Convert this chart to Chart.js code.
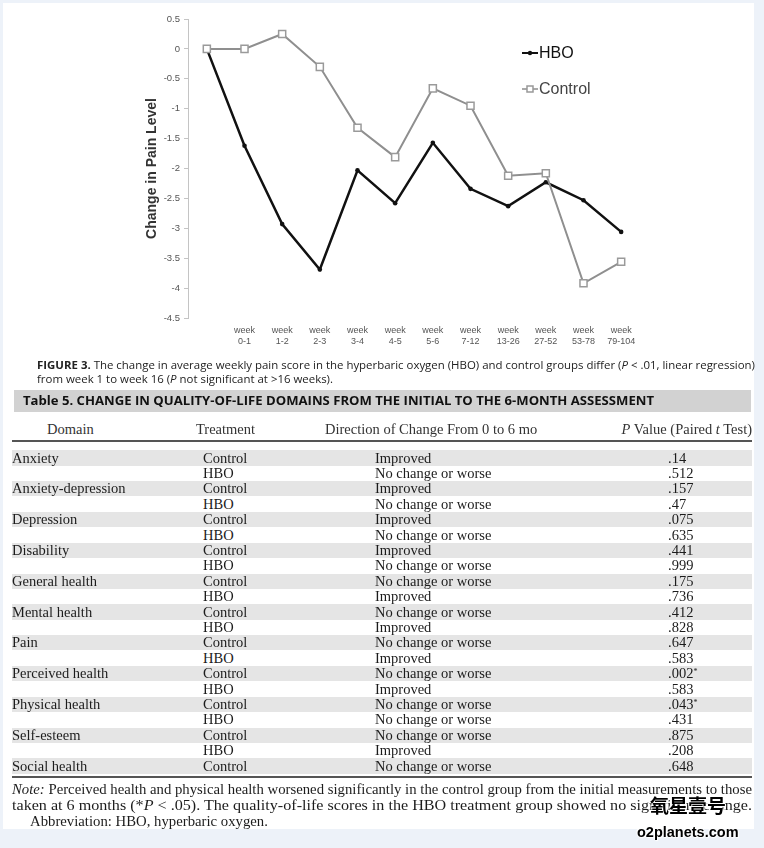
<!DOCTYPE html>
<html>
<head>
<meta charset="utf-8">
<script src="https://cdn.jsdelivr.net/npm/chart.js@4.4.0/dist/chart.umd.min.js"></script>
<style>
  body { margin: 0; width: 764px; height: 848px; background: #edf2f9; overflow: hidden; position: relative; }
  #panel { position: absolute; left: 3px; top: 3px; width: 751px; height: 826px; background: #fff; }
  #chart { position: absolute; left: 0; top: 0; }
  .line { position: absolute; white-space: nowrap; transform-origin: 0 50%; display: inline-block; }
  .cap { font-family: "Open Sans", sans-serif; font-size: 11px; color: #222; line-height: 14px; }
  .serif { font-family: "Liberation Serif", serif; font-size: 14.5px; color: #1c1c1c; line-height: 15px; }
  .star { font-size: 8px; position: relative; top: -4px; }
  #bar { position: absolute; left: 14px; top: 390px; width: 737px; height: 22px; background: #d2d2d2; }
  #title { font-family: "Open Sans", sans-serif; font-weight: 700; font-size: 12px; color: #111; line-height: 22px; }
  .rule { position: absolute; left: 12px; width: 740px; height: 2px; background: #555; }
  .stripe { position: absolute; left: 12px; width: 740px; background: #e5e5e5; }
  .wm { position: absolute; font-weight: 700; color: #000; white-space: nowrap;
        text-shadow: 0 0 2px #fff, 0 0 2px #fff, 1px 1px 1px #fff, -1px -1px 1px #fff; }
</style>
</head>
<body>
<div id="panel"></div>
<canvas id="chart" width="764" height="360"></canvas>
<div id="texts"></div>
<script>
// chart data
const weekRanges = ['', '0-1', '1-2', '2-3', '3-4', '4-5', '5-6', '7-12', '13-26', '27-52', '53-78', '79-104'];
const hboChange = [0, -1.62, -2.93, -3.69, -2.03, -2.58, -1.57, -2.34, -2.63, -2.23, -2.53, -3.06];
const controlChange = [0, 0, 0.25, -0.3, -1.32, -1.81, -0.66, -0.95, -2.12, -2.08, -3.92, -3.56];
const yMin = -4.5, yMax = 0.5, yStep = 0.5;

// table data
const domains = ['Anxiety', '', 'Anxiety-depression', '', 'Depression', '', 'Disability', '', 'General health', '',
  'Mental health', '', 'Pain', '', 'Perceived health', '', 'Physical health', '', 'Self-esteem', '', 'Social health'];
const treatments = ['Control', 'HBO', 'Control', 'HBO', 'Control', 'HBO', 'Control', 'HBO', 'Control', 'HBO',
  'Control', 'HBO', 'Control', 'HBO', 'Control', 'HBO', 'Control', 'HBO', 'Control', 'HBO', 'Control'];
const directions = ['Improved', 'No change or worse', 'Improved', 'No change or worse', 'Improved', 'No change or worse',
  'Improved', 'No change or worse', 'No change or worse', 'Improved', 'No change or worse', 'Improved',
  'No change or worse', 'Improved', 'No change or worse', 'Improved', 'No change or worse', 'No change or worse',
  'No change or worse', 'Improved', 'No change or worse'];
const pValues = ['.14', '.512', '.157', '.47', '.075', '.635', '.441', '.999', '.175', '.736', '.412', '.828',
  '.647', '.583', '.002*', '.583', '.043*', '.431', '.875', '.208', '.648'];

// legend drawn inside the plot, top right
const insideLegend = {
  id: 'insideLegend',
  afterDraw(chart) {
    const ctx = chart.ctx;
    const x0 = chart.chartArea.right - 118;
    const y0 = chart.chartArea.top + 34;
    ctx.save();
    ctx.font = '16px "Liberation Sans", Arial, sans-serif';
    ctx.textBaseline = 'middle';
    // HBO
    ctx.strokeStyle = '#111';
    ctx.lineWidth = 2;
    ctx.beginPath(); ctx.moveTo(x0, y0); ctx.lineTo(x0 + 16, y0); ctx.stroke();
    ctx.fillStyle = '#111';
    ctx.beginPath(); ctx.arc(x0 + 8, y0, 2.2, 0, Math.PI * 2); ctx.fill();
    ctx.fillText('HBO', x0 + 17, y0 + 1);
    // Control
    const y1 = y0 + 36;
    ctx.strokeStyle = '#8c8c8c';
    ctx.lineWidth = 1.5;
    ctx.beginPath(); ctx.moveTo(x0, y1); ctx.lineTo(x0 + 16, y1); ctx.stroke();
    ctx.fillStyle = '#fff';
    ctx.fillRect(x0 + 5, y1 - 3, 6, 6);
    ctx.strokeStyle = '#999';
    ctx.strokeRect(x0 + 5, y1 - 3, 6, 6);
    ctx.fillStyle = '#444';
    ctx.fillText('Control', x0 + 17, y1 + 1);
    ctx.restore();
  }
};

new Chart(document.getElementById('chart'), {
  type: 'line',
  data: {
    labels: weekRanges,
    datasets: [{
      label: 'HBO',
      data: hboChange,
      borderColor: '#111',
      backgroundColor: '#111',
      borderWidth: 2.5,
      pointRadius: 2.3,
      pointBorderWidth: 0,
      tension: 0,
      order: 1
    }, {
      label: 'Control',
      data: controlChange,
      borderColor: '#8f8f8f',
      backgroundColor: '#fff',
      borderWidth: 2,
      pointStyle: 'rect',
      pointRadius: 5,
      pointBorderColor: '#9a9a9a',
      pointBackgroundColor: '#fff',
      pointBorderWidth: 1.5,
      tension: 0,
      order: 0
    }]
  },
  options: {
    responsive: false,
    animation: false,
    devicePixelRatio: 1,
    layout: { padding: { left: 130, right: 124, top: 19, bottom: 2 } },
    plugins: { legend: { display: false }, tooltip: { enabled: false } },
    scales: {
      x: {
        offset: true,
        grid: { display: false },
        border: { display: false },
        afterFit(scale) { scale.height = 40; },
        ticks: {
          padding: -1,
          maxRotation: 0,
          autoSkip: false,
          color: '#555',
          font: { family: '"Liberation Sans", Arial, sans-serif', size: 9, lineHeight: 1.2 },
          callback(value, index) {
            const r = weekRanges[index];
            return r ? ['week', r] : '';
          }
        }
      },
      y: {
        min: yMin,
        max: yMax,
        afterFit(scale) { scale.width = 58; },
        grid: { drawOnChartArea: false, drawTicks: true, tickLength: 4, color: '#c4c4c4' },
        border: { display: true, color: '#c4c4c4', width: 1 },
        ticks: {
          stepSize: yStep,
          padding: 4,
          color: '#555',
          font: { family: '"Liberation Sans", Arial, sans-serif', size: 9.5 },
          callback(value) { return String(Math.round(value * 10) / 10); }
        },
        title: {
          display: true,
          text: 'Change in Pain Level',
          color: '#333',
          padding: { top: 14, bottom: 0 },
          font: { family: '"Liberation Sans", Arial, sans-serif', size: 14, weight: 'bold' }
        }
      }
    }
  },
  plugins: [insideLegend]
});

// caption, table and note as text
const box = document.getElementById('texts');
function add(html, cls, left, top, extra) {
  const el = document.createElement('div');
  el.className = 'line ' + cls;
  el.innerHTML = html;
  el.style.left = left + 'px';
  el.style.top = top + 'px';
  if (extra) Object.assign(el.style, extra);
  box.appendChild(el);
  return el;
}
function fit(el, width) {
  const w = el.getBoundingClientRect().width;
  const s = width / w;
  el.style.transform = 'scaleX(' + s + ')';
  return s;
}

const cap1 = add('<b>FIGURE 3.</b> The change in average weekly pain score in the hyperbaric oxygen (HBO) and control groups differ (<i>P</i> &lt; .01, linear regression)', 'cap', 37, 358);
const cap2 = add('from week 1 to week 16 (<i>P</i> not significant at &gt;16 weeks).', 'cap', 37, 372);
const s1 = fit(cap1, 718);
cap2.style.transform = 'scaleX(' + s1 + ')';

const bar = document.createElement('div'); bar.id = 'bar'; box.appendChild(bar);
const title = add('Table 5. CHANGE IN QUALITY-OF-LIFE DOMAINS FROM THE INITIAL TO THE 6-MONTH ASSESSMENT', '', 23, 390);
title.id = 'title';
fit(title, 631);

const headTop = 422;
add('Domain', 'serif', 47, headTop, { color: '#333' });
add('Treatment', 'serif', 196, headTop, { color: '#333' });
add('Direction of Change From 0 to 6 mo', 'serif', 325, headTop, { color: '#333' });
const ph = add('<i>P</i> Value (Paired <i>t</i> Test)', 'serif', 0, headTop, { color: '#333' });
ph.style.left = (752 - ph.getBoundingClientRect().width) + 'px';

const r1 = document.createElement('div'); r1.className = 'rule'; r1.style.top = '440px'; box.appendChild(r1);

const rowTop = 450.3, rowH = 15.4;
for (let i = 0; i < domains.length; i++) {
  const top = rowTop + i * rowH;
  if (treatments[i] === 'Control') {
    const st = document.createElement('div');
    st.className = 'stripe';
    st.style.top = top + 'px';
    st.style.height = rowH + 'px';
    box.appendChild(st);
  }
  const ty = top + 0.2;
  if (domains[i]) add(domains[i], 'serif', 12, ty);
  add(treatments[i], 'serif', 203, ty);
  add(directions[i], 'serif', 375, ty);
  add(pValues[i].replace('*', '<span class="star">*</span>'), 'serif', 668, ty);
}

const r2 = document.createElement('div'); r2.className = 'rule'; r2.style.top = '776px'; box.appendChild(r2);

const n1 = add('<i>Note:</i> Perceived health and physical health worsened significantly in the control group from the initial measurements to those', 'serif', 12, 782);
const n2 = add('taken at 6 months (*<i>P</i> &lt; .05). The quality-of-life scores in the HBO treatment group showed no significant change.', 'serif', 12, 798);
const n3 = add('Abbreviation: HBO, hyperbaric oxygen.', 'serif', 30, 814);
const sn = fit(n1, 740);
fit(n2, 740);
n3.style.transform = 'scaleX(' + sn + ')';

// watermark
const w1 = document.createElement('div');
w1.className = 'wm';
w1.style.cssText += 'left:650px; top:793px; font-family:"Noto Sans CJK SC", sans-serif; font-size:19px; line-height:24px;';
w1.textContent = '氧星壹号';
box.appendChild(w1);
const w2 = document.createElement('div');
w2.className = 'wm';
w2.style.cssText += 'left:637px; top:823px; font-family:"Liberation Sans", Arial, sans-serif; font-size:14.5px; line-height:18px;';
w2.textContent = 'o2planets.com';
box.appendChild(w2);
</script>
</body>
</html>
